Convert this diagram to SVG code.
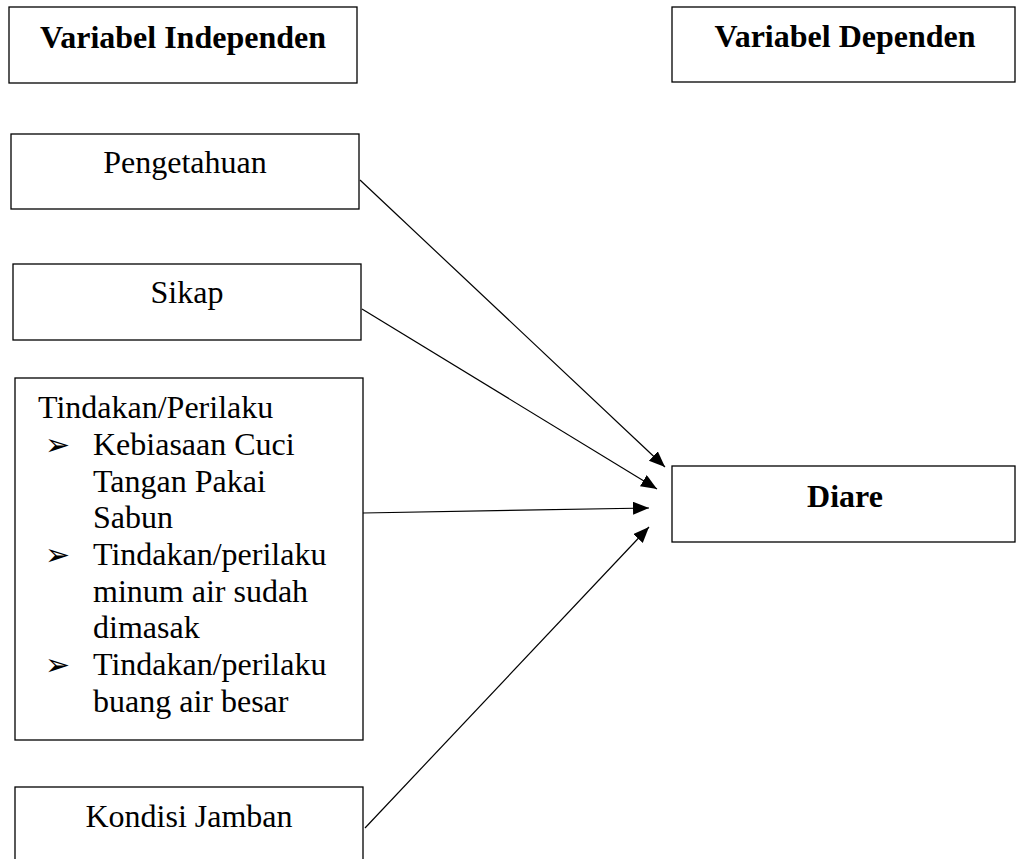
<svg xmlns="http://www.w3.org/2000/svg" width="1016" height="859" viewBox="0 0 1016 859">
<style>
.box{fill:#fff;stroke:#000;stroke-width:1.3}
.t{font-family:"Liberation Serif","Times New Roman",serif;font-size:32px;fill:#000}
.b{font-weight:bold}
.c{text-anchor:middle}
.bul{font-family:"DejaVu Sans",sans-serif;font-size:30px;fill:#000}
.con{stroke:#000;stroke-width:1.2;fill:none}
</style>
<defs>
<marker id="ah" markerUnits="userSpaceOnUse" markerWidth="18" markerHeight="14" refX="16" refY="6.5" orient="auto">
<path d="M0,0 L16,6.5 L0,13 z" fill="#000"/>
</marker>
</defs>
<rect width="1016" height="859" fill="#fff"/>
<g id="var-independen">
<rect class="box" x="9" y="7" width="348" height="76"/>
<text class="t b c" x="183" y="48">Variabel Independen</text>
</g>
<g id="var-dependen">
<rect class="box" x="672" y="7" width="343" height="75"/>
<text class="t b c" x="845" y="47">Variabel Dependen</text>
</g>
<g id="pengetahuan">
<rect class="box" x="11" y="134" width="348" height="75"/>
<text class="t c" x="185" y="173">Pengetahuan</text>
</g>
<g id="sikap">
<rect class="box" x="13" y="264" width="348" height="76"/>
<text class="t c" x="187" y="303">Sikap</text>
</g>
<g id="tindakan">
<rect class="box" x="15" y="378" width="348" height="362"/>
<text class="t" x="38" y="418">Tindakan/Perilaku</text>
<text class="bul" x="45" y="455">➢</text>
<text class="t" x="93" y="455">Kebiasaan Cuci</text>
<text class="t" x="93" y="492">Tangan Pakai</text>
<text class="t" x="93" y="528">Sabun</text>
<text class="bul" x="45" y="565">➢</text>
<text class="t" x="93" y="565">Tindakan/perilaku</text>
<text class="t" x="93" y="602">minum air sudah</text>
<text class="t" x="93" y="638">dimasak</text>
<text class="bul" x="45" y="675">➢</text>
<text class="t" x="93" y="675">Tindakan/perilaku</text>
<text class="t" x="93" y="712">buang air besar</text>
</g>
<g id="kondisi-jamban">
<rect class="box" x="15" y="787" width="348" height="90"/>
<text class="t c" x="189" y="827">Kondisi Jamban</text>
</g>
<g id="diare">
<rect class="box" x="672" y="466" width="343" height="76"/>
<text class="t b c" x="845" y="507">Diare</text>
</g>
<g id="connectors">
<line class="con" x1="360" y1="180" x2="665" y2="467" marker-end="url(#ah)"/>
<line class="con" x1="362" y1="309" x2="657" y2="489" marker-end="url(#ah)"/>
<line class="con" x1="363" y1="513" x2="649" y2="508" marker-end="url(#ah)"/>
<line class="con" x1="365" y1="828" x2="649" y2="527" marker-end="url(#ah)"/>
</g>
</svg>
